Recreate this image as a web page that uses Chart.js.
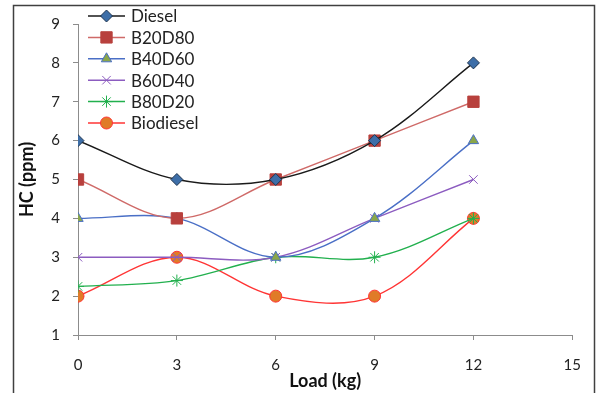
<!DOCTYPE html>
<html>
<head>
<meta charset="utf-8">
<script src="https://cdn.jsdelivr.net/npm/chart.js@4"></script>
<style>
  html, body { margin: 0; padding: 0; background: #fff; }
  #wrap { width: 597px; height: 393px; }
</style>
</head>
<body>
<div id="wrap"><canvas id="hcChart" width="597" height="393"></canvas></div>
<script>
const loads = [0, 3, 6, 9, 12];
const diesel = [6, 5, 5, 6, 8];
const b20d80 = [5, 4, 5, 6, 7];
const b40d60 = [4, 4, 3, 4, 6];
const b60d40 = [3, 3, 3, 4, 5];
const b80d20 = [2.25, 2.4, 3, 3, 4];
const biodiesel = [2, 3, 2, 2, 4];

const FONT = "Lato";

function pts(vals) {
    return vals.map(function (v, i) { return { x: loads[i], y: v }; });
}

function series(label, vals, line, fill, edge, style, r) {
    return {
        label: label,
        data: pts(vals),
        borderColor: line,
        borderWidth: 1.4,
        pointStyle: style,
        pointRadius: r,
        pointBackgroundColor: fill,
        pointBorderColor: edge,
        pointBorderWidth: 1,
        tension: 0.35,
        fill: false,
    };
}

const datasets = [
    series("Diesel", diesel, "#1a1a1a", "#3d6ea8", "#1f3550", "rectRot", 6),
    series("B20D80", b20d80, "#cf6a68", "#b8403d", "#b8403d", "rect", 8),
    series("B40D60", b40d60, "#4a6fc6", "#8aa64a", "#4a6fc6", "triangle", 6),
    series("B60D40", b60d40, "#8c5cc0", "#8c5cc0", "#8c5cc0", "crossRot", 6),
    series("B80D20", b80d20, "#22b04e", "#22b04e", "#22b04e", "star", 6),
    series("Biodiesel", biodiesel, "#ff3535", "#e07b28", "#ff3535", "circle", 6),
];

// outer frame
const framePlugin = {
    id: "frame",
    beforeDraw: function (chart) {
        const ctx = chart.ctx;
        ctx.save();
        ctx.fillStyle = "#fff";
        ctx.fillRect(0, 0, chart.width, chart.height);
        ctx.strokeStyle = "#404040";
        ctx.lineWidth = 1.5;
        ctx.strokeRect(13.5, 5.5, 581, 400);
        ctx.restore();
    },
};

// legend drawn inside the plot, top-left
const legendPlugin = {
    id: "insideLegend",
    afterDraw: function (chart) {
        const ctx = chart.ctx;
        ctx.save();
        chart.data.datasets.forEach(function (ds, i) {
            const y = 16 + i * 21.4;
            ctx.strokeStyle = ds.borderColor;
            ctx.lineWidth = 1.5;
            ctx.beginPath();
            ctx.moveTo(88, y);
            ctx.lineTo(125, y);
            ctx.stroke();
            ctx.fillStyle = ds.pointBackgroundColor;
            ctx.strokeStyle = ds.pointBorderColor;
            ctx.lineWidth = 1;
            Chart.helpers.drawPoint(ctx, {
                pointStyle: ds.pointStyle,
                radius: ds.pointRadius,
                rotation: 0,
                borderWidth: 1,
            }, 106.5, y);
            ctx.fillStyle = "#222";
            ctx.font = "17px " + FONT;
            ctx.textBaseline = "middle";
            ctx.textAlign = "left";
            ctx.fillText(ds.label, 131, y + 1);
        });
        ctx.restore();
    },
};

const ctx = document.getElementById("hcChart").getContext("2d");

new Chart(ctx, {
    type: "line",
    data: { datasets: datasets },
    options: {
        responsive: false,
        animation: false,
        layout: { padding: { top: 24, right: 22, left: 0, bottom: 0 } },
        plugins: {
            legend: { display: false },
            tooltip: { enabled: false },
        },
        scales: {
            x: {
                type: "linear",
                min: 0,
                max: 15,
                afterFit: function (s) { s.height = 58; },
                ticks: {
                    stepSize: 3,
                    padding: 16,
                    color: "#222",
                    font: { family: FONT, size: 15 },
                },
                grid: { drawOnChartArea: false, tickLength: 5, color: "#8c8c8c" },
                border: { color: "#8c8c8c", width: 1 },
                title: {
                    display: true,
                    text: "Load (kg)",
                    color: "#111",
                    font: { family: FONT, size: 18, weight: "bold" },
                    padding: { top: 0, bottom: 1 },
                },
            },
            y: {
                min: 1,
                max: 9,
                afterFit: function (s) { s.width = 78; },
                ticks: {
                    stepSize: 1,
                    padding: 13,
                    color: "#222",
                    font: { family: FONT, size: 15 },
                },
                grid: { drawOnChartArea: false, tickLength: 5, color: "#8c8c8c" },
                border: { color: "#8c8c8c", width: 1 },
                title: {
                    display: true,
                    text: "HC (ppm)",
                    color: "#111",
                    font: { family: FONT, size: 18, weight: "bold" },
                    padding: { top: 16, bottom: 0 },
                },
            },
        },
    },
    plugins: [framePlugin, legendPlugin],
});
</script>
</body>
</html>
